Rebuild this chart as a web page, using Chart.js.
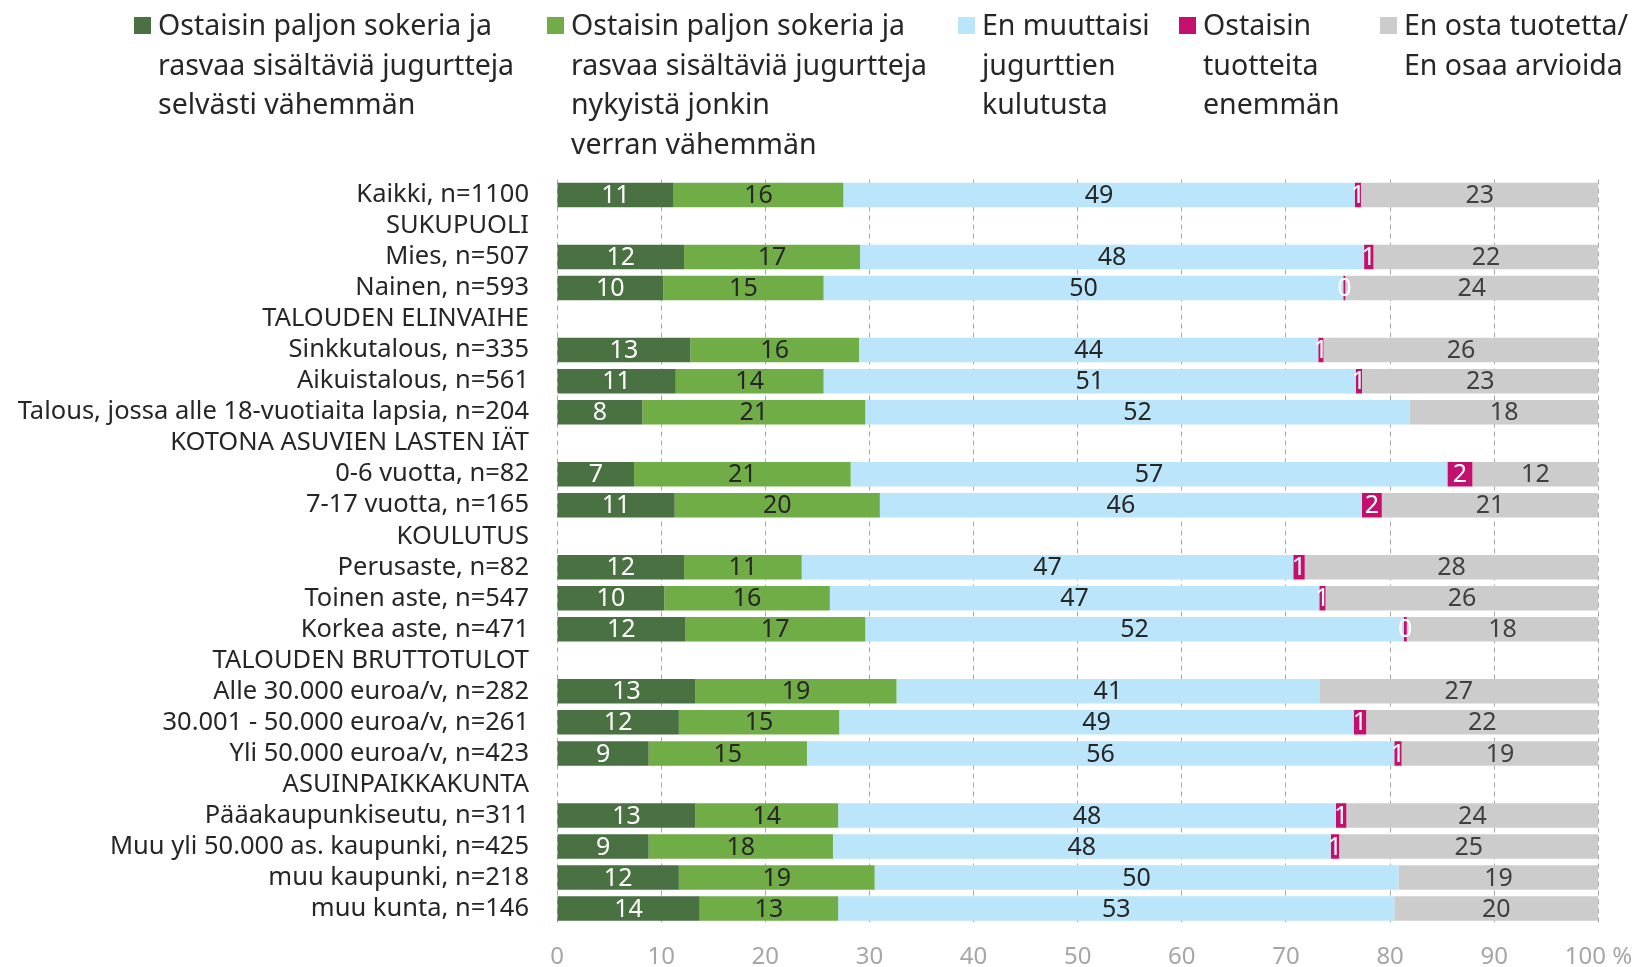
<!DOCTYPE html>
<html>
<head>
<meta charset="utf-8">
<script src="https://cdn.jsdelivr.net/npm/chart.js@4.4.1/dist/chart.umd.min.js"></script>
<style>
  html, body { margin: 0; padding: 0; background: #fff; overflow: hidden; }
  #wrap { position: relative; width: 1650px; height: 967px; }
  #legend { position: absolute; left: 0; top: 0; width: 1650px; height: 170px; }
  .item { position: absolute; top: 5px; font-family: 'Noto Sans', sans-serif;
          font-size: 28.5px; line-height: 39.5px; color: #262626; white-space: pre; }
  .sw { position: absolute; width: 17px; height: 17px; top: 17px; }
</style>
</head>
<body>
<div id="wrap">
  <canvas id="chart"></canvas>
  <div id="legend"></div>
</div>
<script>
const FONT = "'Noto Sans', sans-serif";

const categories = [
  'Kaikki, n=1100',
  'SUKUPUOLI',
  'Mies, n=507',
  'Nainen, n=593',
  'TALOUDEN ELINVAIHE',
  'Sinkkutalous, n=335',
  'Aikuistalous, n=561',
  'Talous, jossa alle 18-vuotiaita lapsia, n=204',
  'KOTONA ASUVIEN LASTEN IÄT',
  '0-6 vuotta, n=82',
  '7-17 vuotta, n=165',
  'KOULUTUS',
  'Perusaste, n=82',
  'Toinen aste, n=547',
  'Korkea aste, n=471',
  'TALOUDEN BRUTTOTULOT',
  'Alle 30.000 euroa/v, n=282',
  '30.001 - 50.000 euroa/v, n=261',
  'Yli 50.000 euroa/v, n=423',
  'ASUINPAIKKAKUNTA',
  'Pääakaupunkiseutu, n=311',
  'Muu yli 50.000 as. kaupunki, n=425',
  'muu kaupunki, n=218',
  'muu kunta, n=146'
];

// series (percent), null = header row
const selvastiVahemman = [11.2, null, 12.2, 10.2, null, 12.8, 11.4, 8.2, null, 7.4, 11.3, null, 12.2, 10.3, 12.3, null, 13.3, 11.7, 8.8, null, 13.3, 8.8, 11.7, 13.7];
const jonkinVerranVahemman = [16.3, null, 16.9, 15.4, null, 16.2, 14.2, 21.4, null, 20.8, 19.7, null, 11.3, 15.9, 17.3, null, 19.3, 15.4, 15.2, null, 13.7, 17.7, 18.8, 13.3];
const enMuuttaisi = [49.1, null, 48.4, 49.9, null, 44.1, 51.1, 52.3, null, 57.3, 46.3, null, 47.2, 47.0, 51.7, null, 40.6, 49.4, 56.4, null, 47.8, 47.8, 50.3, 53.4];
const enemman = [0.6, null, 0.9, 0.2, null, 0.5, 0.6, 0, null, 2.4, 1.9, null, 1.1, 0.6, 0.3, null, 0, 1.2, 0.7, null, 1.0, 0.8, 0, 0];
const enOsta = [22.8, null, 21.6, 24.3, null, 26.4, 22.7, 18.1, null, 12.1, 20.8, null, 28.2, 26.2, 18.4, null, 26.8, 22.3, 18.9, null, 24.2, 24.9, 19.2, 19.6];

const seriesNames = [
  'Ostaisin paljon sokeria ja\nrasvaa sisältäviä jugurtteja\nselvästi vähemmän',
  'Ostaisin paljon sokeria ja\nrasvaa sisältäviä jugurtteja\nnykyistä jonkin\nverran vähemmän',
  'En muuttaisi\njugurttien\nkulutusta',
  'Ostaisin\ntuotteita\nenemmän',
  'En osta tuotetta/\nEn osaa arvioida'
];
const seriesColors = ['#4A7142', '#70AD47', '#BAE5FA', '#C30F6E', '#CCCCCC'];
const labelColors = ['#FFFFFF', '#262626', '#262626', '#FFFFFF', '#404040'];

// legend (html)
const legendX = [134, 547, 958, 1179, 1380];
const legend = document.getElementById('legend');
seriesNames.forEach((name, i) => {
  const sw = document.createElement('div');
  sw.className = 'sw';
  sw.style.left = legendX[i] + 'px';
  sw.style.background = seriesColors[i];
  legend.appendChild(sw);
  const t = document.createElement('div');
  t.className = 'item';
  t.style.left = (legendX[i] + 24) + 'px';
  t.textContent = name;
  legend.appendChild(t);
});

// value labels in the middle of each segment
const segmentLabels = {
  id: 'segmentLabels',
  afterDatasetsDraw(chart) {
    const ctx = chart.ctx;
    ctx.save();
    ctx.font = '25px ' + FONT;
    ctx.textAlign = 'center';
    ctx.textBaseline = 'middle';
    chart.data.datasets.forEach((ds, di) => {
      const meta = chart.getDatasetMeta(di);
      meta.data.forEach((bar, i) => {
        const v = ds.data[i];
        if (v === null || v === 0) return;
        ctx.fillStyle = labelColors[di];
        ctx.fillText(String(Math.round(v)), (bar.x + bar.base) / 2, bar.y + 1);
      });
    });
    ctx.restore();
  }
};

const seriesData = [selvastiVahemman, jonkinVerranVahemman, enMuuttaisi, enemman, enOsta];

new Chart(document.getElementById('chart'), {
  type: 'bar',
  data: {
    labels: categories,
    datasets: seriesData.map((d, i) => ({
      label: seriesNames[i].replace(/\n/g, ' '),
      data: d,
      backgroundColor: seriesColors[i],
      borderWidth: 0,
      categoryPercentage: 1,
      barPercentage: 0.79
    }))
  },
  options: {
    indexAxis: 'y',
    responsive: true,
    maintainAspectRatio: false,
    animation: false,
    // x-axis reserves its tick padding twice, so pull the bottom back a little
    layout: { padding: { top: 179.5, right: 51.6, bottom: -23.8, left: 0 } },
    scales: {
      x: {
        stacked: true,
        min: 0,
        max: 100,
        grid: { color: '#A6A6A6', lineWidth: 1, drawTicks: false },
        border: { display: false, dash: [5, 4] },
        ticks: {
          stepSize: 10,
          padding: 17,
          color: '#A6A6A6',
          font: { family: FONT, size: 24, lineHeight: 1.367 },
          callback: (v) => v === 100 ? '100 %' : String(v)
        }
      },
      y: {
        stacked: true,
        grid: { display: true, color: 'transparent', drawOnChartArea: false, drawTicks: true, tickLength: 28 },
        border: { display: false },
        afterFit: (s) => { s.width = 557; },
        ticks: {
          autoSkip: false,
          padding: 0,
          color: '#262626',
          font: { family: FONT, size: 25.5 }
        }
      }
    },
    plugins: {
      legend: { display: false },
      tooltip: { enabled: false }
    }
  },
  plugins: [segmentLabels]
});
</script>
</body>
</html>
